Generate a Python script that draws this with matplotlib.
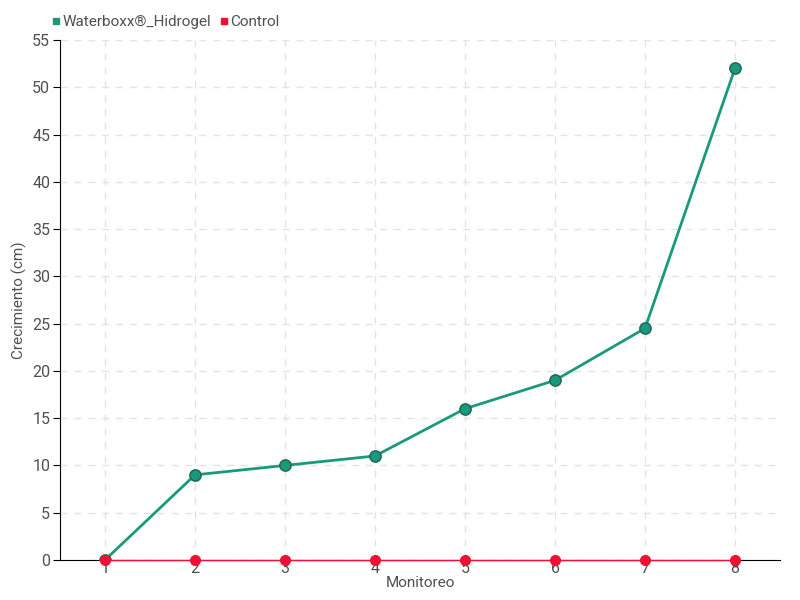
import matplotlib
matplotlib.use("Agg")
import matplotlib.pyplot as plt
from matplotlib.lines import Line2D

plt.rcParams['font.family'] = ['Roboto', 'DejaVu Sans']

monitoreo = [1, 2, 3, 4, 5, 6, 7, 8]
waterboxx = [0, 9, 10, 11, 16, 19, 24.5, 52]
control = [0, 0, 0, 0, 0, 0, 0, 0]
yticks = list(range(0, 56, 5))

green = '#1a9a7c'
red = '#ee1133'
txt = '#505050'

fig = plt.figure(figsize=(8, 6), dpi=100)
ax = fig.add_axes([0.075, 0.0667, 0.9, 0.8667])

ax.plot(monitoreo, waterboxx, color=green, lw=2.0, marker='o', ms=8,
        markerfacecolor=green, markeredgecolor='#1e6e58', mew=1.2, zorder=3)
ax.plot(monitoreo, control, color=red, lw=1.0, marker='o', ms=7,
        markerfacecolor=red, markeredgecolor=red, zorder=4, clip_on=False)

ax.set_xlim(0.5, 8.5)
ax.set_ylim(0, 55)
ax.set_xticks(monitoreo)
ax.set_yticks(yticks)
ax.grid(True, color='#e3e3e3', linestyle=(0, (5, 5)), lw=1)
ax.set_axisbelow(True)
for s in ['top', 'right']:
    ax.spines[s].set_visible(False)
ax.spines['left'].set_color('black')
ax.spines['bottom'].set_color('black')
ax.tick_params(axis='y', length=5, labelcolor=txt, labelsize=11.5, direction='out', color='black', pad=2)
ax.tick_params(axis='x', length=0, labelcolor=txt, labelsize=11.5, pad=1)

ax.set_xlabel('Monitoreo', color=txt, fontsize=11, labelpad=0)
ax.set_ylabel('Crecimiento (cm)', color=txt, fontsize=11)
ax.yaxis.set_label_coords(-0.046, 0.5)

handles = [Line2D([], [], color=green, marker='s', ls='', ms=5),
           Line2D([], [], color=red, marker='s', ls='', ms=5)]
fig.legend(handles, ['Waterboxx®_Hidrogel', 'Control'], loc='upper left',
           bbox_to_anchor=(0.045, 0.998), ncol=2, frameon=False,
           handletextpad=0.05, columnspacing=0.4, handlelength=0.8,
           labelcolor=txt, fontsize=11)

fig.savefig('out.png', dpi=100)
